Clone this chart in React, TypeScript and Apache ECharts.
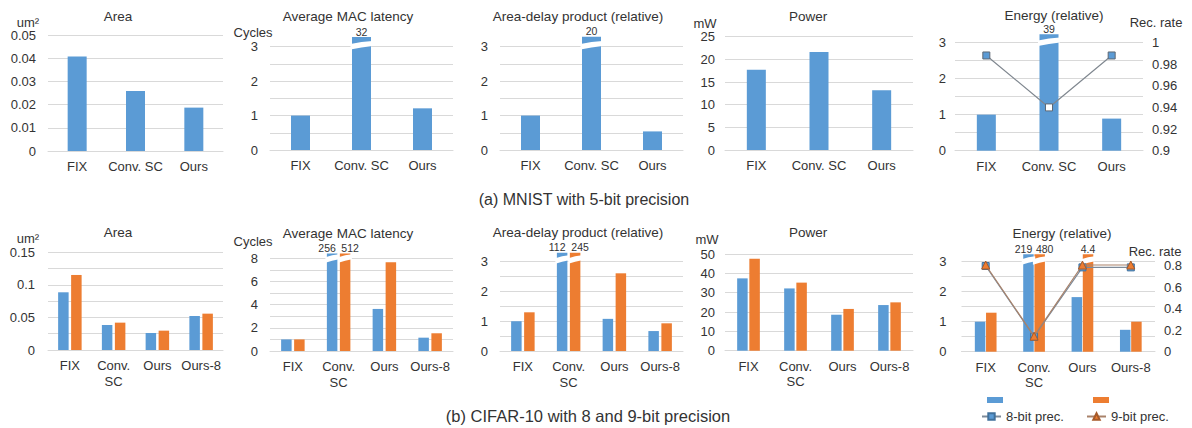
import React, { useEffect, useRef } from 'react';
import * as echarts from 'echarts';

// Categories
const catsA = ['FIX', 'Conv. SC', 'Ours'];
const catsB = ['FIX', 'Conv.\nSC', 'Ours', 'Ours-8'];

// (a) MNIST with 5-bit precision
const areaA = [0.0407, 0.0259, 0.0187];
const latencyA = [1, 32, 1.21];
const adpA = [1, 20, 0.54];
const powerA = [17.7, 21.6, 13.2];
const energyA = [1, 39, 0.89];
const recRateA = [0.988, 0.94, 0.988];

// (b) CIFAR-10 with 8- and 9-bit precision
const area8 = [0.0886, 0.0384, 0.0261, 0.0522];
const area9 = [0.1152, 0.042, 0.0297, 0.0558];
const latency8 = [1, 256, 3.63, 1.15];
const latency9 = [1, 512, 7.65, 1.53];
const adp8 = [1, 112, 1.08, 0.67];
const adp9 = [1.3, 245, 2.61, 0.93];
const power8 = [37.4, 32.2, 18.6, 23.6];
const power9 = [47.6, 35.2, 21.6, 25.0];
const energy8 = [1, 219, 1.82, 0.73];
const energy9 = [1.3, 480, 4.4, 1.0];
const recRate8 = [0.8, 0.14, 0.787, 0.787];
const recRate9 = [0.809, 0.145, 0.809, 0.809];

const FONT = '"Liberation Sans", Arial, Helvetica, sans-serif';
const TEXT = '#333333';
const GRID = '#d9d9d9';
const BLUE = '#5b9bd5';
const ORANGE = '#ed7d31';

type Bars = { name: string; data: number[]; color: string };
type Panel = {
  title: string;
  tx: number;
  ty: number;
  unit?: string;
  ux?: number;
  uy?: number;
  box: [number, number, number, number];
  cats: string[];
  bars: Bars[];
  max: number;
  step: number;
  labelStep: number;
  labelMargin: number;
  barWidth: number;
  barGapPx: number;
  cap?: number;
  breakAt?: number;
};

const panels: Panel[] = [
  {
    title: 'Area', tx: 118, ty: 16, unit: 'um²', ux: 28, uy: 22,
    box: [48, 35, 223, 151], cats: catsA,
    bars: [{ name: 'MNIST', data: areaA, color: BLUE }],
    max: 0.05, step: 0.01, labelStep: 0.01, labelMargin: 12, barWidth: 19, barGapPx: 0,
  },
  {
    title: 'Average MAC latency', tx: 348, ty: 16, unit: 'Cycles', ux: 253, uy: 32,
    box: [270, 46.7, 453, 150], cats: catsA,
    bars: [{ name: 'MNIST', data: latencyA, color: BLUE }],
    max: 3, step: 0.5, labelStep: 1, labelMargin: 12, barWidth: 19, barGapPx: 0,
    cap: 3.28, breakAt: 3.05,
  },
  {
    title: 'Area-delay product (relative)', tx: 578, ty: 16,
    box: [500, 46.7, 683, 150], cats: catsA,
    bars: [{ name: 'MNIST', data: adpA, color: BLUE }],
    max: 3, step: 0.5, labelStep: 1, labelMargin: 12, barWidth: 19, barGapPx: 0,
    cap: 3.29, breakAt: 3.05,
  },
  {
    title: 'Power', tx: 808, ty: 16, unit: 'mW', ux: 705, uy: 23,
    box: [725, 36.7, 913, 150], cats: catsA,
    bars: [{ name: 'MNIST', data: powerA, color: BLUE }],
    max: 25, step: 5, labelStep: 5, labelMargin: 10, barWidth: 19, barGapPx: 0,
  },
  {
    title: 'Energy (relative)', tx: 1054, ty: 15, unit: 'Rec. rate', ux: 1156, uy: 22,
    box: [955, 42.5, 1143, 150.7], cats: catsA,
    bars: [{ name: 'MNIST', data: energyA, color: BLUE }],
    max: 3, step: 0.5, labelStep: 1, labelMargin: 9, barWidth: 19, barGapPx: 0,
    cap: 3.23, breakAt: 3.03,
  },
  {
    title: 'Area', tx: 118, ty: 232, unit: 'um²', ux: 28, uy: 238,
    box: [48, 252.3, 223, 350], cats: catsB,
    bars: [
      { name: '8-bit', data: area8, color: BLUE },
      { name: '9-bit', data: area9, color: ORANGE },
    ],
    max: 0.15, step: 0.025, labelStep: 0.05, labelMargin: 13, barWidth: 10.5, barGapPx: 2.5,
  },
  {
    title: 'Average MAC latency', tx: 348, ty: 233, unit: 'Cycles', ux: 253, uy: 241,
    box: [270, 258.3, 453, 351], cats: catsB,
    bars: [
      { name: '8-bit', data: latency8, color: BLUE },
      { name: '9-bit', data: latency9, color: ORANGE },
    ],
    max: 8, step: 1, labelStep: 2, labelMargin: 12, barWidth: 10.5, barGapPx: 2.5,
    cap: 8.42, breakAt: 8.0,
  },
  {
    title: 'Area-delay product (relative)', tx: 578, ty: 232,
    box: [500, 261.7, 683, 351], cats: catsB,
    bars: [
      { name: '8-bit', data: adp8, color: BLUE },
      { name: '9-bit', data: adp9, color: ORANGE },
    ],
    max: 3, step: 0.5, labelStep: 1, labelMargin: 12, barWidth: 10.5, barGapPx: 2.5,
    cap: 3.3, breakAt: 3.08,
  },
  {
    title: 'Power', tx: 808, ty: 232, unit: 'mW', ux: 707, uy: 239,
    box: [725, 254, 913, 350.7], cats: catsB,
    bars: [
      { name: '8-bit', data: power8, color: BLUE },
      { name: '9-bit', data: power9, color: ORANGE },
    ],
    max: 50, step: 10, labelStep: 10, labelMargin: 10, barWidth: 10.5, barGapPx: 1.7,
  },
  {
    title: 'Energy (relative)', tx: 1062, ty: 233, unit: 'Rec. rate', ux: 1155, uy: 251,
    box: [961.5, 261.7, 1155, 351.7], cats: catsB,
    bars: [
      { name: '8-bit', data: energy8, color: BLUE },
      { name: '9-bit', data: energy9, color: ORANGE },
    ],
    max: 3, step: 0.5, labelStep: 1, labelMargin: 15, barWidth: 10.5, barGapPx: 0.7,
    cap: 3.25, breakAt: 3.05,
  },
];

const fmt = (v: number) => String(parseFloat(v.toFixed(4)));
const onStep = (v: number, s: number) => Math.abs(v / s - Math.round(v / s)) < 1e-6;

function buildOption() {
  const grid: any[] = [];
  const xAxis: any[] = [];
  const yAxis: any[] = [];
  const series: any[] = [];
  const graphic: any[] = [];

  const txt = (text: string, x: number, y: number, size: number, align = 'center') => ({
    type: 'text',
    x,
    y,
    silent: true,
    style: { text, fontSize: size, fontFamily: FONT, fill: TEXT, align, verticalAlign: 'middle' },
  });

  panels.forEach((p, i) => {
    const [x0, y0, x1, y1] = p.box;
    grid.push({ left: x0, top: y0, width: x1 - x0, height: y1 - y0, outerBoundsMode: 'none' });
    xAxis.push({
      type: 'category',
      gridIndex: i,
      data: p.cats,
      axisTick: { show: false },
      axisLine: { lineStyle: { color: GRID, width: 1 } },
      axisLabel: { interval: 0, fontSize: 13, fontFamily: FONT, color: TEXT, lineHeight: 15.5, margin: 8 },
    });
    yAxis.push({
      type: 'value',
      gridIndex: i,
      min: 0,
      max: p.max,
      interval: p.step,
      axisLine: { show: false },
      axisTick: { show: false },
      splitLine: { lineStyle: { color: GRID, width: 1 } },
      axisLabel: {
        margin: p.labelMargin,
        fontSize: 13,
        fontFamily: FONT,
        color: TEXT,
        formatter: (v: number) => (onStep(v, p.labelStep) ? fmt(v) : ''),
      },
    });

    const n = p.bars.length;
    const isBroken = (v: number) => p.cap !== undefined && v > p.cap;
    p.bars.forEach((b, slot) => {
      series.push({
        type: 'bar',
        name: b.name,
        xAxisIndex: i,
        yAxisIndex: i,
        barWidth: p.barWidth,
        barGap: `${(p.barGapPx / p.barWidth) * 100}%`,
        clip: false,
        z: 2,
        itemStyle: { color: b.color },
        label: { show: false, position: 'top', distance: 0, fontSize: 10.5, fontFamily: FONT, color: TEXT },
        data: b.data.map((v, c) => {
          if (!isBroken(v)) return v;
          const pairBroken = n > 1 && p.bars.every((o) => isBroken(o.data[c]));
          return {
            value: p.cap,
            label: { show: true, formatter: String(v), offset: [pairBroken ? (slot === 0 ? -5 : 5) : 0, 0] },
          };
        }),
      });
    });

    // white slanted gap across each bar that runs off the axis
    if (p.cap !== undefined && p.breakAt !== undefined) {
      const items: number[][] = [];
      p.bars.forEach((b, slot) =>
        b.data.forEach((v, c) => {
          if (isBroken(v)) items.push([c, p.breakAt as number, slot]);
        })
      );
      series.push({
        type: 'custom',
        xAxisIndex: i,
        yAxisIndex: i,
        z: 3,
        silent: true,
        data: items,
        renderItem: (_params: any, api: any) => {
          const c = api.value(0);
          const slot = api.value(2);
          const pt = api.coord([c, p.breakAt]);
          const cx = pt[0] + (slot - (n - 1) / 2) * (p.barWidth + p.barGapPx);
          const yb = pt[1];
          const hw = p.barWidth / 2 + 1.5;
          return {
            type: 'polygon',
            shape: {
              points: [
                [cx - hw, yb - 1],
                [cx, yb - 3],
                [cx + hw, yb - 4],
                [cx + hw, yb + 1],
                [cx, yb + 2.5],
                [cx - hw, yb + 4.5],
              ],
            },
            style: { fill: '#ffffff' },
          };
        },
      });
    }

    graphic.push(txt(p.title, p.tx, p.ty, 13.5));
    if (p.unit) graphic.push(txt(p.unit, p.ux as number, p.uy as number, 13));
  });

  // secondary (recognition rate) axes
  const rightAxis = (gridIndex: number, min: number, max: number, interval: number, margin: number, top: number) => ({
    type: 'value',
    gridIndex,
    position: 'right',
    min,
    max,
    interval,
    axisLine: { show: false },
    axisTick: { show: false },
    splitLine: { show: false },
    axisLabel: {
      margin,
      fontSize: 13,
      fontFamily: FONT,
      color: TEXT,
      formatter: (v: number) => (v > top + 1e-6 ? '' : fmt(v)),
    },
  });
  yAxis.push(rightAxis(4, 0.9, 1, 0.02, 9, 1));
  yAxis.push(rightAxis(9, 0, 0.84, 0.2, 9, 0.8));

  series.push({
    type: 'line',
    name: 'MNIST rec. rate',
    xAxisIndex: 4,
    yAxisIndex: 10,
    z: 4,
    symbol: 'rect',
    symbolSize: 7,
    lineStyle: { color: '#808890', width: 1.2 },
    itemStyle: { color: BLUE, borderColor: '#5e6873', borderWidth: 1 },
    data: recRateA.map((v, c) => (energyA[c] > 3 ? { value: v, itemStyle: { color: '#ffffff' } } : v)),
  });
  series.push({
    type: 'line',
    name: '8-bit prec.',
    xAxisIndex: 9,
    yAxisIndex: 11,
    z: 4,
    symbol: 'rect',
    symbolSize: 7,
    lineStyle: { color: '#7d8a99', width: 1.2 },
    itemStyle: { color: BLUE, borderColor: '#41719c', borderWidth: 1 },
    data: recRate8,
  });
  series.push({
    type: 'line',
    name: '9-bit prec.',
    xAxisIndex: 9,
    yAxisIndex: 11,
    z: 5,
    symbol: 'triangle',
    symbolSize: 8,
    lineStyle: { color: '#a9826a', width: 1.2 },
    itemStyle: { color: ORANGE, borderColor: '#a65a2a', borderWidth: 1 },
    data: recRate9,
  });

  graphic.push(txt('(a) MNIST with 5-bit precision', 584, 199, 16));
  graphic.push(txt('(b) CIFAR-10 with 8 and 9-bit precision', 588, 416, 16.5));

  const legendBase = {
    orient: 'horizontal',
    padding: 0,
    itemGap: 0,
    textStyle: { fontSize: 13, fontFamily: FONT, color: TEXT },
  };
  const legend = [
    { ...legendBase, left: 987, top: 397, data: ['8-bit'], icon: 'rect', itemWidth: 16, itemHeight: 6, formatter: () => '' },
    { ...legendBase, left: 1093, top: 397, data: ['9-bit'], icon: 'rect', itemWidth: 16, itemHeight: 6, formatter: () => '' },
    { ...legendBase, left: 981, top: 410, data: ['8-bit prec.'], itemWidth: 19, itemHeight: 8 },
    { ...legendBase, left: 1086, top: 410, data: ['9-bit prec.'], itemWidth: 19, itemHeight: 8 },
  ];

  return {
    animation: false,
    backgroundColor: '#ffffff',
    textStyle: { fontFamily: FONT },
    grid,
    xAxis,
    yAxis,
    series,
    legend,
    graphic,
  };
}

export default function App() {
  const ref = useRef<HTMLDivElement>(null);
  useEffect(() => {
    if (!ref.current) return;
    const chart = echarts.init(ref.current, null, { renderer: 'svg' });
    chart.setOption(buildOption() as any);
    return () => chart.dispose();
  }, []);
  return (
    <div
      ref={ref}
      style={{ position: 'fixed', left: 0, top: 0, width: 1192, height: 428, background: '#ffffff' }}
    />
  );
}
